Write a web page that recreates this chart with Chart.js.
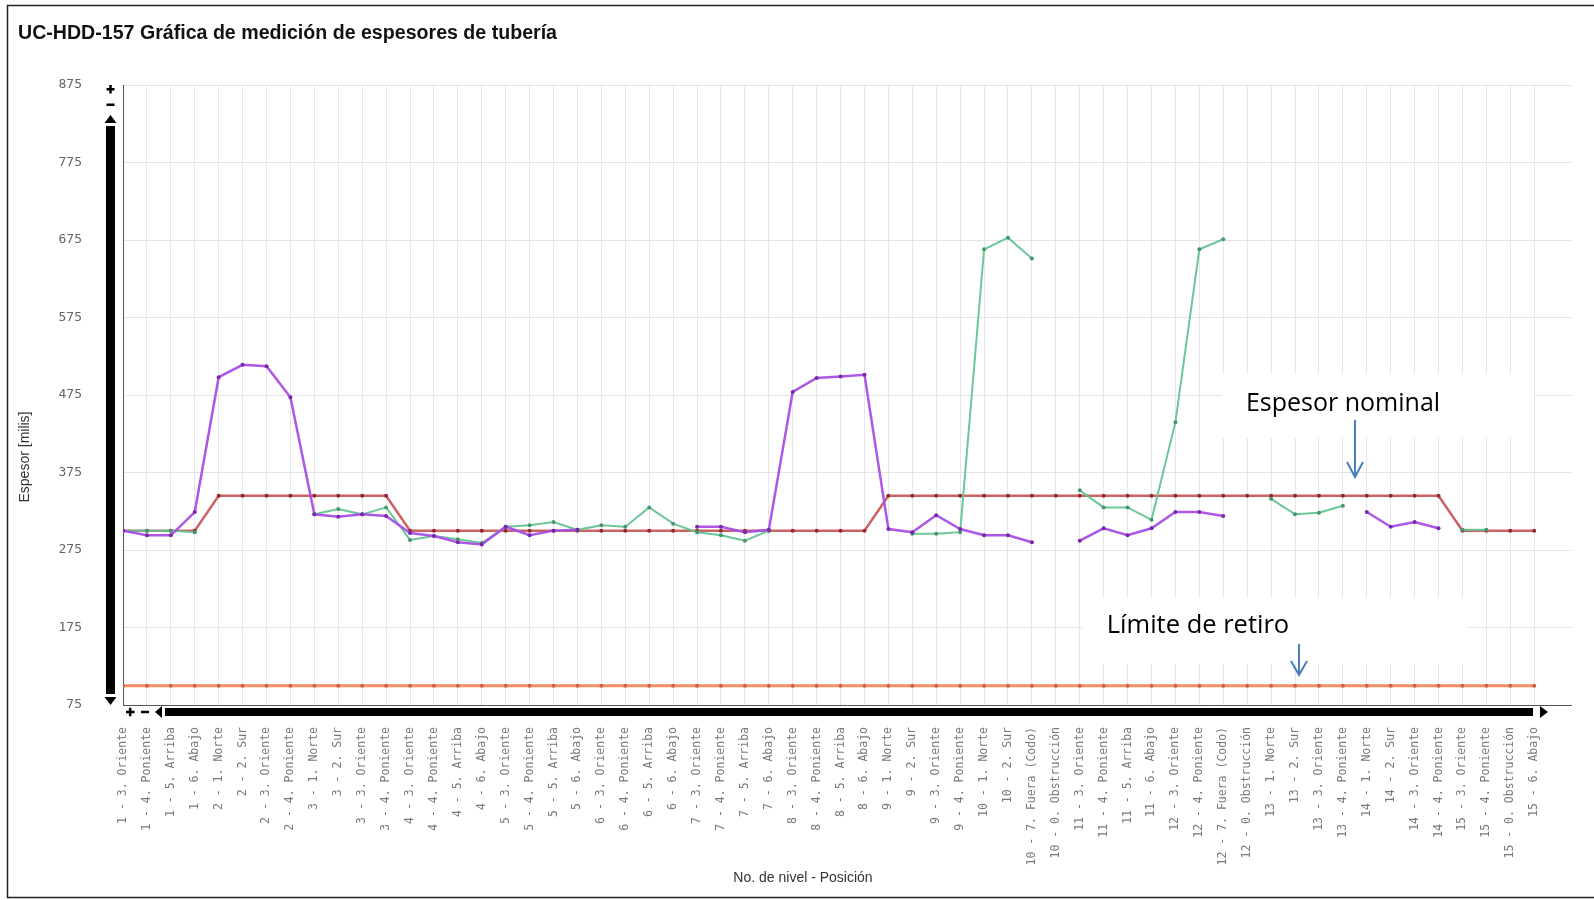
<!DOCTYPE html>
<html>
<head>
<meta charset="utf-8">
<title>UC-HDD-157</title>
<script src="https://cdn.jsdelivr.net/npm/chart.js@4.4.1/dist/chart.umd.min.js"></script>
<style>
  body { margin: 0; background: #fff; }
  #wrap { width: 1594px; height: 900px; }
</style>
</head>
<body>
<div id="wrap"><canvas id="chart" width="1594" height="900"></canvas></div>
<script>
// nivel - posicion
var posiciones = [
  '1 - 3. Oriente', '1 - 4. Poniente', '1 - 5. Arriba', '1 - 6. Abajo',
  '2 - 1. Norte', '2 - 2. Sur', '2 - 3. Oriente', '2 - 4. Poniente',
  '3 - 1. Norte', '3 - 2. Sur', '3 - 3. Oriente', '3 - 4. Poniente',
  '4 - 3. Oriente', '4 - 4. Poniente', '4 - 5. Arriba', '4 - 6. Abajo',
  '5 - 3. Oriente', '5 - 4. Poniente', '5 - 5. Arriba', '5 - 6. Abajo',
  '6 - 3. Oriente', '6 - 4. Poniente', '6 - 5. Arriba', '6 - 6. Abajo',
  '7 - 3. Oriente', '7 - 4. Poniente', '7 - 5. Arriba', '7 - 6. Abajo',
  '8 - 3. Oriente', '8 - 4. Poniente', '8 - 5. Arriba', '8 - 6. Abajo',
  '9 - 1. Norte', '9 - 2. Sur', '9 - 3. Oriente', '9 - 4. Poniente',
  '10 - 1. Norte', '10 - 2. Sur', '10 - 7. Fuera (Codo)', '10 - 0. Obstrucción',
  '11 - 3. Oriente', '11 - 4. Poniente', '11 - 5. Arriba', '11 - 6. Abajo',
  '12 - 3. Oriente', '12 - 4. Poniente', '12 - 7. Fuera (Codo)', '12 - 0. Obstrucción',
  '13 - 1. Norte', '13 - 2. Sur', '13 - 3. Oriente', '13 - 4. Poniente',
  '14 - 1. Norte', '14 - 2. Sur', '14 - 3. Oriente', '14 - 4. Poniente',
  '15 - 3. Oriente', '15 - 4. Poniente', '15 - 0. Obstrucción', '15 - 6. Abajo'
]

// espesores medidos [milis]
var medicionMorada = [
  300, 294, 294, 324,
  498, 514, 512, 472,
  321, 318, 321, 319,
  297, 293, 285, 282,
  305, 294, 300, 301,
  null, null, null, null,
  305, 305, 298, 301,
  479, 497, 499, 501,
  302, 298, 320, 302,
  294, 294, 285, null,
  287, 303, 294, 303,
  324, 324, 319, null,
  null, null, null, null,
  324, 305, 311, 303,
  null, null, null, null
]

var medicionVerde = [
  300, 300, 300, 298,
  null, null, null, null,
  321, 328, 321, 330,
  288, 293, 289, 284,
  305, 307, 311, 301,
  307, 305, 330, 309,
  298, 294, 287, 300,
  null, null, null, null,
  null, 296, 296, 298,
  663, 678, 651, null,
  352, 330, 330, 314,
  440, 663, 676, null,
  341, 321, 323, 332,
  null, null, null, null,
  301, 301, null, null
]

var espesorNominal = [
  300, 300, 300, 300,
  345, 345, 345, 345,
  345, 345, 345, 345,
  300, 300, 300, 300,
  300, 300, 300, 300,
  300, 300, 300, 300,
  300, 300, 300, 300,
  300, 300, 300, 300,
  345, 345, 345, 345,
  345, 345, 345, 345,
  345, 345, 345, 345,
  345, 345, 345, 345,
  345, 345, 345, 345,
  345, 345, 345, 345,
  300, 300, 300, 300
]

var limiteRetiro = posiciones.map(function () { return 100 })

var yTicks = [75, 175, 275, 375, 475, 575, 675, 775, 875]

function puntos(serie) {
  return serie.map(function (v, i) { return { x: i, y: v } })
}

var decor = {
  id: 'decor',
  beforeDatasetsDraw: function (chart) {
    var c = chart.ctx
    c.save()
    c.fillStyle = '#fff'
    c.fillRect(1222, 374, 312, 64)
    c.fillRect(1082, 598, 385, 66)
    c.restore()
  },
  afterDraw: function (chart) {
    var c = chart.ctx
    c.save()

    // marco
    c.strokeStyle = '#222'
    c.lineWidth = 1.5
    c.strokeRect(7.5, 5.5, 1620, 892)

    // titulo
    c.fillStyle = '#111'
    c.font = 'bold 19.6px "Liberation Sans Narrow", "Arial Narrow", sans-serif'
    c.textBaseline = 'middle'
    c.textAlign = 'left'
    c.fillText('UC-HDD-157 Gráfica de medición de espesores de tubería', 18, 34)

    // titulos de ejes
    c.fillStyle = '#333'
    c.font = '14px "Liberation Sans Narrow", "Arial Narrow", sans-serif'
    c.textAlign = 'center'
    c.fillText('No. de nivel - Posición', 803, 878)
    c.save()
    c.translate(25, 457)
    c.rotate(-Math.PI / 2)
    c.fillText('Espesor [milis]', 0, 0)
    c.restore()

    // barras de desplazamiento
    c.fillStyle = '#000'
    var vx = 110.5
    c.fillRect(vx - 4.5, 126, 9, 568)
    c.beginPath(); c.moveTo(vx, 115); c.lineTo(vx + 6, 123); c.lineTo(vx - 6, 123); c.closePath(); c.fill()
    c.beginPath(); c.moveTo(vx, 705); c.lineTo(vx + 6, 697); c.lineTo(vx - 6, 697); c.closePath(); c.fill()
    c.fillRect(vx - 4, 88, 8, 2.5); c.fillRect(vx - 1.25, 85, 2.5, 8.5)
    c.fillRect(vx - 4, 103.5, 8, 2.5)

    var hy = 712
    c.fillRect(165, hy - 4, 1368, 8)
    c.beginPath(); c.moveTo(155, hy); c.lineTo(162, hy - 6); c.lineTo(162, hy + 6); c.closePath(); c.fill()
    c.beginPath(); c.moveTo(1548, hy); c.lineTo(1540, hy - 6); c.lineTo(1540, hy + 6); c.closePath(); c.fill()
    c.fillRect(126, hy - 1.25, 8.5, 2.5); c.fillRect(128.9, hy - 4.25, 2.5, 8.5)
    c.fillRect(141, hy - 1.25, 8, 2.5)

    // anotaciones
    c.fillStyle = '#000'
    c.font = '25px "Open Sans", sans-serif'
    c.fillText('Espesor nominal', 1343, 404)
    c.font = '25.5px "Open Sans", sans-serif'
    c.fillText('Límite de retiro', 1198, 626)

    c.strokeStyle = '#4a7ebb'
    c.lineWidth = 2
    c.beginPath()
    c.moveTo(1355, 420); c.lineTo(1355, 477)
    c.moveTo(1347, 462); c.lineTo(1355, 477); c.lineTo(1363, 462)
    c.moveTo(1299, 644); c.lineTo(1299, 675)
    c.moveTo(1291, 661); c.lineTo(1299, 675); c.lineTo(1307, 661)
    c.stroke()
    c.restore()
  }
}

var ctx = document.getElementById('chart').getContext('2d')
var chart = new Chart(ctx, {
  type: 'line',
  data: {
    datasets: [{
      label: 'Medición 1',
      data: puntos(medicionMorada),
      borderColor: 'rgba(168, 78, 228, 0.95)',
      backgroundColor: 'rgb(120, 40, 170)',
      borderWidth: 2.5,
      pointRadius: 2,
      pointBorderWidth: 0,
      order: 0
    }, {
      label: 'Medición 2',
      data: puntos(medicionVerde),
      borderColor: 'rgba(100, 196, 145, 0.95)',
      backgroundColor: 'rgb(70, 150, 110)',
      borderWidth: 2,
      pointRadius: 2,
      pointBorderWidth: 0,
      order: 1
    }, {
      label: 'Espesor nominal',
      data: puntos(espesorNominal),
      borderColor: 'rgba(198, 82, 82, 0.9)',
      backgroundColor: 'rgb(150, 40, 50)',
      borderWidth: 2.5,
      pointRadius: 2,
      pointBorderWidth: 0,
      order: 2
    }, {
      label: 'Límite de retiro',
      data: puntos(limiteRetiro),
      borderColor: 'rgba(244, 136, 96, 0.95)',
      backgroundColor: 'rgb(215, 95, 65)',
      borderWidth: 3,
      pointRadius: 2,
      pointBorderWidth: 0,
      order: 3
    }]
  },
  options: {
    responsive: false,
    animation: false,
    spanGaps: false,
    layout: { padding: { left: 12, right: 8, top: 85, bottom: 0 } },
    plugins: {
      legend: { display: false },
      tooltip: { enabled: false }
    },
    scales: {
      x: {
        type: 'linear',
        min: 0,
        max: 60.57,
        afterFit: function (scale) { scale.height = 195 },
        border: { display: true, color: '#555', width: 1 },
        grid: {
          drawTicks: false,
          color: function (c) { return c.tick && c.tick.value > posiciones.length - 1 ? 'rgba(0,0,0,0)' : '#e6e6e6' }
        },
        ticks: {
          stepSize: 1,
          autoSkip: false,
          includeBounds: false,
          minRotation: 90,
          maxRotation: 90,
          padding: 22,
          color: '#7a7a7a',
          font: { family: '"DejaVu Sans Mono", monospace', size: 11.5 },
          callback: function (v) { return posiciones[v] !== undefined ? posiciones[v] : '' }
        }
      },
      y: {
        min: 75,
        max: 875,
        afterFit: function (scale) { scale.width = 111 },
        afterBuildTicks: function (scale) { scale.ticks = yTicks.map(function (v) { return { value: v } }) },
        border: { display: true, color: '#555', width: 1 },
        grid: { drawTicks: false, color: '#e4e4e4' },
        ticks: {
          padding: 41,
          color: '#666',
          font: { family: '"DejaVu Sans Mono", monospace', size: 13 }
        }
      }
    }
  },
  plugins: [decor]
})
</script>
</body>
</html>
